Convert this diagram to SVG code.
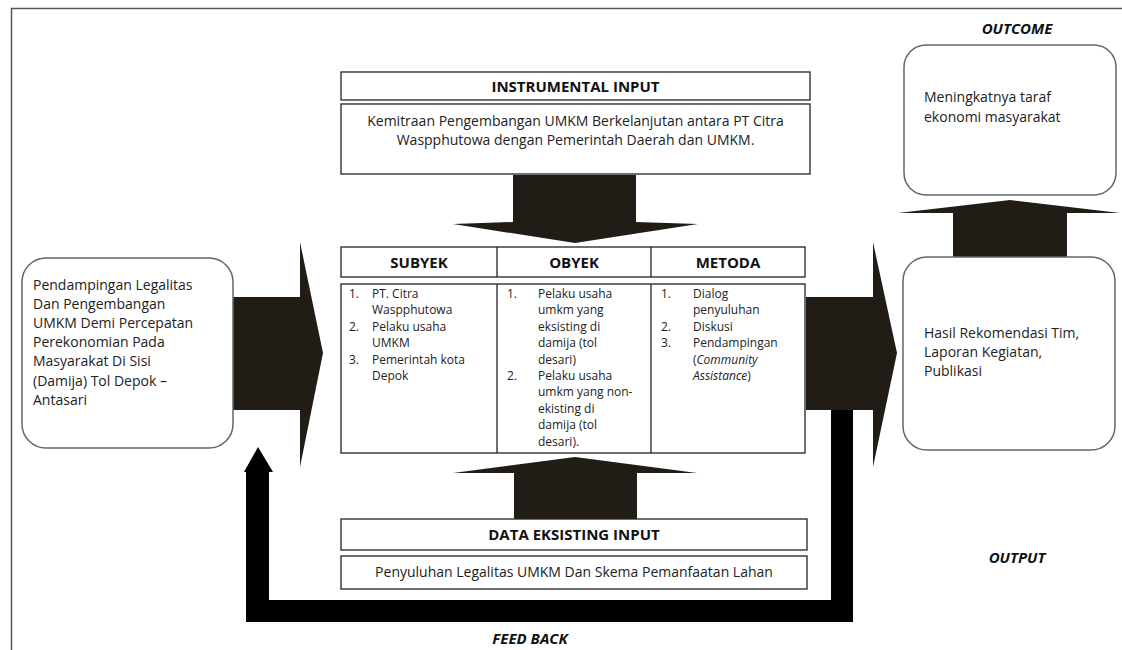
<svg xmlns="http://www.w3.org/2000/svg" width="1122" height="650" viewBox="0 0 1122 650">
<style>
.t{font-family:"Open Sans","Liberation Sans",sans-serif;font-size:14px;fill:#222}
.s{font-family:"Open Sans","Liberation Sans",sans-serif;font-size:12px;fill:#222}
.b{font-family:"Open Sans","Liberation Sans",sans-serif;font-size:15px;font-weight:bold;fill:#111}
.bi{font-family:"Open Sans","Liberation Sans",sans-serif;font-size:15px;font-weight:bold;font-style:italic;fill:#111}
.box{fill:#fff;stroke:#222;stroke-width:1.3}
.rbox{fill:#fff;stroke:#666;stroke-width:1.5}
.arr{fill:#211d16}
.fb{fill:#000}
</style>
<rect width="1122" height="650" fill="#fff"/>
<path d="M11.5,650 V8.5 H1122" fill="none" stroke="#555" stroke-width="1.5"/>

<g id="connectors">
  <polygon class="arr" points="233,297 300,297 300,242 323,353 300,467 300,410 233,410"/>
  <polygon class="arr" points="806,297 873,297 873,242 897,353 873,467 873,410 806,410"/>
  <polygon class="arr" points="513,175 636,175 636,222 698,224 575,243 453,224 513,222"/>
  <polygon class="arr" points="514,524 637,524 637,473 697,473 575,457 453,473 514,473"/>
  <polygon class="arr" points="953,257 1067,257 1067,213 1120,213 1010,200 898,213 953,213"/>
  <polygon class="fb" points="831,410 853,410 853,622 246,622 246,472 244,472 258,447 273,472 269,472 269,600 831,600"/>
</g>

<g id="input-box">
  <rect class="rbox" x="22" y="258" width="211" height="190" rx="24"/>
  <text class="t"><tspan x="33" y="290">Pendampingan Legalitas</tspan><tspan x="33" y="309.1">Dan Pengembangan</tspan><tspan x="33" y="328.2">UMKM Demi Percepatan</tspan><tspan x="33" y="347.3">Perekonomian Pada</tspan><tspan x="33" y="366.4">Masyarakat Di Sisi</tspan><tspan x="33" y="385.5">(Damija) Tol Depok –</tspan><tspan x="33" y="404.6">Antasari</tspan></text>
</g>

<g id="instrumental-input">
  <rect class="box" x="341" y="72" width="469" height="28"/>
  <text class="b" x="575.5" y="92" text-anchor="middle">INSTRUMENTAL INPUT</text>
  <rect class="box" x="341" y="104" width="469" height="70"/>
  <text class="t" text-anchor="middle"><tspan x="575.5" y="126">Kemitraan Pengembangan UMKM Berkelanjutan antara PT Citra</tspan><tspan x="575.5" y="145.3">Waspphutowa dengan Pemerintah Daerah dan UMKM.</tspan></text>
</g>

<g id="process-table">
  <rect class="box" x="341" y="247" width="464" height="30"/>
  <line x1="497" y1="247" x2="497" y2="277" stroke="#222" stroke-width="1.3"/>
  <line x1="651" y1="247" x2="651" y2="277" stroke="#222" stroke-width="1.3"/>
  <text class="b" x="419" y="268" text-anchor="middle">SUBYEK</text>
  <text class="b" x="574" y="268" text-anchor="middle">OBYEK</text>
  <text class="b" x="728" y="268" text-anchor="middle">METODA</text>
  <rect class="box" x="341" y="284" width="464" height="169"/>
  <line x1="497" y1="284" x2="497" y2="453" stroke="#222" stroke-width="1.3"/>
  <line x1="651" y1="284" x2="651" y2="453" stroke="#222" stroke-width="1.3"/>
  <text class="s"><tspan x="349" y="298">1.</tspan><tspan x="372" y="298">PT. Citra</tspan><tspan x="372" y="314.4">Waspphutowa</tspan><tspan x="349" y="330.8">2.</tspan><tspan x="372" y="330.8">Pelaku usaha</tspan><tspan x="372" y="347.2">UMKM</tspan><tspan x="349" y="363.6">3.</tspan><tspan x="372" y="363.6">Pemerintah kota</tspan><tspan x="372" y="380">Depok</tspan></text>
  <text class="s"><tspan x="507" y="298">1.</tspan><tspan x="538" y="298">Pelaku usaha</tspan><tspan x="538" y="314.4">umkm yang</tspan><tspan x="538" y="330.8">eksisting di</tspan><tspan x="538" y="347.2">damija (tol</tspan><tspan x="538" y="363.6">desari)</tspan><tspan x="507" y="380">2.</tspan><tspan x="538" y="380">Pelaku usaha</tspan><tspan x="538" y="396.4">umkm yang non-</tspan><tspan x="538" y="412.8">ekisting di</tspan><tspan x="538" y="429.2">damija (tol</tspan><tspan x="538" y="445.6">desari).</tspan></text>
  <text class="s"><tspan x="661" y="298">1.</tspan><tspan x="693" y="298">Dialog</tspan><tspan x="693" y="314.4">penyuluhan</tspan><tspan x="661" y="330.8">2.</tspan><tspan x="693" y="330.8">Diskusi</tspan><tspan x="661" y="347.2">3.</tspan><tspan x="693" y="347.2">Pendampingan</tspan><tspan x="693" y="363.6">(<tspan font-style="italic">Community</tspan></tspan><tspan x="693" y="380"><tspan font-style="italic">Assistance</tspan>)</tspan></text>
</g>

<g id="data-eksisting-input">
  <rect class="box" x="341" y="519" width="466" height="31"/>
  <text class="b" x="574" y="540" text-anchor="middle">DATA EKSISTING INPUT</text>
  <rect class="box" x="341" y="556" width="466" height="33"/>
  <text class="t" x="574" y="577" text-anchor="middle">Penyuluhan Legalitas UMKM Dan Skema Pemanfaatan Lahan</text>
</g>

<g id="output-box">
  <rect class="rbox" x="903" y="257" width="212" height="193" rx="24"/>
  <text class="t"><tspan x="924" y="338">Hasil Rekomendasi Tim,</tspan><tspan x="924" y="357.2">Laporan Kegiatan,</tspan><tspan x="924" y="376.4">Publikasi</tspan></text>
  <text class="bi" x="1017" y="563" text-anchor="middle">OUTPUT</text>
</g>

<g id="outcome-box">
  <rect class="rbox" x="904" y="45" width="212" height="150" rx="22"/>
  <text class="t"><tspan x="924" y="102">Meningkatnya taraf</tspan><tspan x="924" y="122">ekonomi masyarakat</tspan></text>
  <text class="bi" x="1017" y="34" text-anchor="middle">OUTCOME</text>
</g>

<g id="feedback-label">
  <text class="bi" x="530" y="644" text-anchor="middle">FEED BACK</text>
</g>
</svg>
